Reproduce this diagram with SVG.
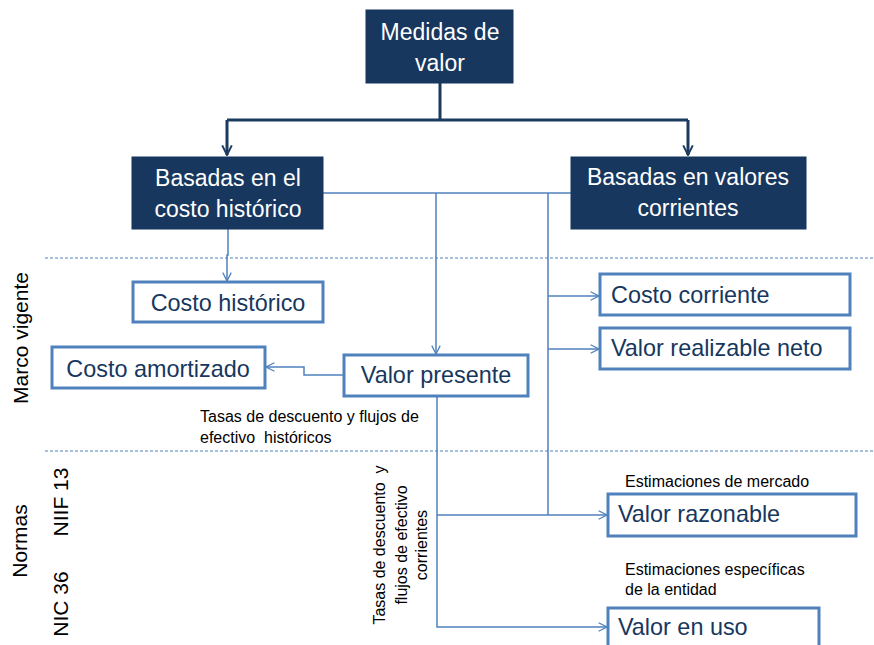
<svg xmlns="http://www.w3.org/2000/svg" width="874" height="645" viewBox="0 0 874 645">
<defs>
<marker id="ah" viewBox="0 0 10 10" refX="9" refY="5" markerWidth="4" markerHeight="4" orient="auto" markerUnits="strokeWidth"><path d="M1,1 L9,5 L1,9" fill="none" stroke="#1a3a60" stroke-width="1.6"/></marker>
<marker id="ab" viewBox="0 0 10 10" refX="9" refY="5" markerWidth="7" markerHeight="7" orient="auto" markerUnits="strokeWidth"><path d="M1,1 L9,5 L1,9" fill="none" stroke="#4f81bd" stroke-width="1.2"/></marker>
<style>
.dark{fill:#17375e;stroke:#17375e}
.wb{fill:#fff;stroke:#4f81bd;stroke-width:3}
.tw{font-family:"Liberation Sans",Arial,sans-serif;font-size:23px;fill:#fff;text-anchor:middle}
.tb{font-family:"Liberation Sans",Arial,sans-serif;font-size:23.4px;fill:#17375e}
.ts{font-family:"Liberation Sans",Arial,sans-serif;font-size:16px;fill:#000}
.tl{font-family:"Liberation Sans",Arial,sans-serif;font-size:21px;fill:#000;text-anchor:middle}
.thick{fill:none;stroke:#1a3a60;stroke-width:3}
.thin{fill:none;stroke:#4f81bd;stroke-width:1.5}
.dash{fill:none;stroke:#4f81bd;stroke-width:1;stroke-dasharray:3,2}
</style>
</defs>
<rect width="874" height="645" fill="#fff"/>
<g id="separators">
<line class="dash" x1="45" y1="258" x2="874" y2="258"/>
<line class="dash" x1="45" y1="451" x2="874" y2="451"/>
</g>
<g id="connectors">
<path class="thick" d="M440,83 V120"/>
<path class="thick" d="M227,120 H688"/>
<path class="thick" d="M227,120 V155" marker-end="url(#ah)"/>
<path class="thick" d="M688,120 V155" marker-end="url(#ah)"/>
<path class="thin" d="M323,193 H571"/>
<path class="thin" d="M436,193 V354" marker-end="url(#ab)"/>
<path class="thin" d="M548,193 V515"/>
<path class="thin" d="M548,296 H599" marker-end="url(#ab)"/>
<path class="thin" d="M548,349 H599" marker-end="url(#ab)"/>
<path class="thin" d="M228,229 V255 H227 V281" marker-end="url(#ab)"/>
<path class="thin" d="M344,375 H304 V367 H266" marker-end="url(#ab)"/>
<path class="thin" d="M437,396 V627 H607" marker-end="url(#ab)"/>
<path class="thin" d="M437,515 H607" marker-end="url(#ab)"/>
</g>
<g id="medidas">
<rect class="dark" x="366" y="10" width="147" height="73"/>
<text class="tw" x="440" y="40">Medidas de</text>
<text class="tw" x="440" y="71">valor</text>
</g>
<g id="basadas-historico">
<rect class="dark" x="132" y="157" width="191" height="72"/>
<text class="tw" x="228" y="186">Basadas en el</text>
<text class="tw" x="228" y="217">costo histórico</text>
</g>
<g id="basadas-corrientes">
<rect class="dark" x="571" y="157" width="235" height="72"/>
<text class="tw" x="688" y="185">Basadas en valores</text>
<text class="tw" x="688" y="216">corrientes</text>
</g>
<g id="costo-historico">
<rect class="wb" x="133" y="282" width="190" height="40"/>
<text class="tb" x="228" y="311" text-anchor="middle">Costo histórico</text>
</g>
<g id="costo-amortizado">
<rect class="wb" x="52" y="347" width="213" height="41"/>
<text class="tb" x="158" y="377" text-anchor="middle">Costo amortizado</text>
</g>
<g id="valor-presente">
<rect class="wb" x="344" y="355" width="184" height="41"/>
<text class="tb" x="436" y="383" text-anchor="middle">Valor presente</text>
</g>
<g id="costo-corriente">
<rect class="wb" x="600" y="274" width="250" height="41"/>
<text class="tb" x="611" y="303">Costo corriente</text>
</g>
<g id="valor-realizable">
<rect class="wb" x="600" y="328" width="250" height="41"/>
<text class="tb" x="611" y="356">Valor realizable neto</text>
</g>
<g id="valor-razonable">
<rect class="wb" x="608" y="494" width="248" height="42"/>
<text class="tb" x="618" y="522">Valor razonable</text>
</g>
<g id="valor-en-uso">
<rect class="wb" x="608" y="608" width="211" height="50"/>
<text class="tb" x="618" y="635">Valor en uso</text>
</g>
<g id="labels">
<text class="ts" x="200" y="422">Tasas de descuento y flujos de</text>
<text class="ts" x="200" y="443" xml:space="preserve">efectivo  históricos</text>
<text class="ts" x="625" y="487">Estimaciones de mercado</text>
<text class="ts" x="625" y="575">Estimaciones específicas</text>
<text class="ts" x="625" y="595">de la entidad</text>
<g transform="translate(0,545) rotate(-90)" class="ts" text-anchor="middle">
<text x="0" y="385" xml:space="preserve">Tasas de descuento  y</text>
<text x="0" y="407">flujos de efectivo</text>
<text x="0" y="427">corrientes</text>
</g>
<text class="tl" transform="translate(28,338) rotate(-90)">Marco vigente</text>
<text class="tl" transform="translate(27,541) rotate(-90)">Normas</text>
<text class="tl" transform="translate(68,502) rotate(-90)">NIIF 13</text>
<text class="tl" transform="translate(68,604) rotate(-90)">NIC 36</text>
</g>
</svg>
